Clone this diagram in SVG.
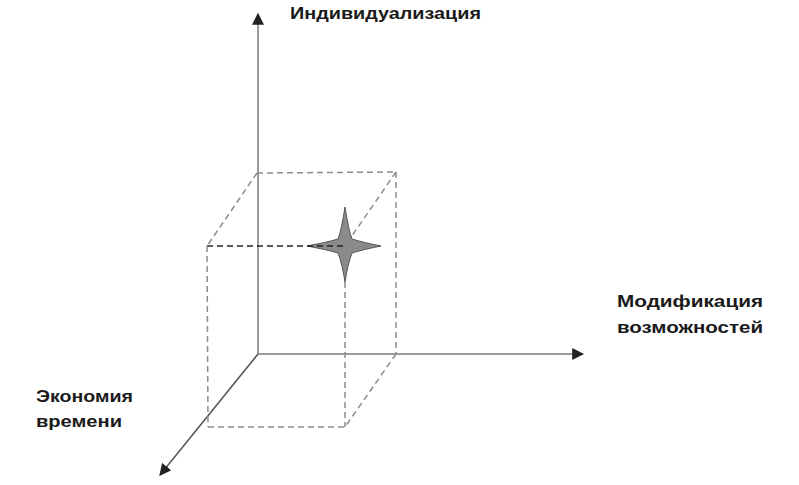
<svg xmlns="http://www.w3.org/2000/svg" width="799" height="485" viewBox="0 0 799 485">
<defs>
<style>
.axis{stroke:#9a9a9a;stroke-width:2;fill:none}
.axisd{stroke:#555;stroke-width:1.5;fill:none}
.dash{stroke:#8c8c8c;stroke-width:1.5;stroke-dasharray:6 4;fill:none}
.dashk{stroke:#222;stroke-width:1.5;stroke-dasharray:6 4;fill:none}
.lbl{font-family:"Liberation Sans",Arial,sans-serif;font-weight:bold;font-size:16px;fill:#1a1a1a}
</style>
<marker id="ah" viewBox="0 0 10 10" refX="9" refY="5" markerWidth="6" markerHeight="6" markerUnits="strokeWidth" orient="auto">
<path d="M0,0 L10,5 L0,10 Z" fill="#222"/>
</marker>
<marker id="ahd" viewBox="0 0 10 10" refX="9" refY="5" markerWidth="8" markerHeight="8" markerUnits="strokeWidth" orient="auto">
<path d="M0,0 L10,5 L0,10 Z" fill="#222"/>
</marker>
</defs>
<rect width="799" height="485" fill="#fff"/>
<g id="connectors">
<line class="axis" x1="258" y1="354" x2="258" y2="14" marker-end="url(#ah)"/>
<line class="axis" x1="258" y1="354" x2="583" y2="354" marker-end="url(#ah)"/>
<line class="axisd" x1="258" y1="354" x2="160" y2="475" marker-end="url(#ahd)"/>
</g>
<g id="star">
<path d="M345,207 Q348.5,230 352,239 Q363,242.5 381,246 Q363,249.5 352,253 Q348,263 345,282 Q342,263 338,253 Q326,249.5 307,246 Q326,242.5 338,239 Q341.5,230 345,207 Z" fill="#8a8a8a" stroke="#555" stroke-width="1"/>
</g>
<g id="cube">
<line class="dash" x1="257" y1="173" x2="396" y2="172"/>
<line class="dash" x1="396" y1="172" x2="396" y2="354"/>
<line class="dash" x1="257" y1="173" x2="207" y2="246"/>
<line class="dash" x1="396" y1="172" x2="345" y2="246"/>
<line class="dash" x1="396" y1="354" x2="345" y2="427"/>
<line class="dashk" x1="207" y1="246" x2="345" y2="246"/>
<line class="dash" x1="207" y1="246" x2="208" y2="427"/>
<line class="dash" x1="345" y1="282" x2="345" y2="427"/>
<line class="dash" x1="208" y1="427" x2="345" y2="427"/>
</g>
<g id="label-individ">
<text class="lbl" x="290" y="19" textLength="191" lengthAdjust="spacingAndGlyphs">Индивидуализация</text>
</g>
<g id="label-modif">
<text class="lbl" x="617" y="307" textLength="146" lengthAdjust="spacingAndGlyphs">Модификация</text>
<text class="lbl" x="617" y="333" textLength="146" lengthAdjust="spacingAndGlyphs">возможностей</text>
</g>
<g id="label-econ">
<text class="lbl" x="36" y="402" textLength="97" lengthAdjust="spacingAndGlyphs">Экономия</text>
<text class="lbl" x="36" y="427" textLength="86" lengthAdjust="spacingAndGlyphs">времени</text>
</g>
</svg>
